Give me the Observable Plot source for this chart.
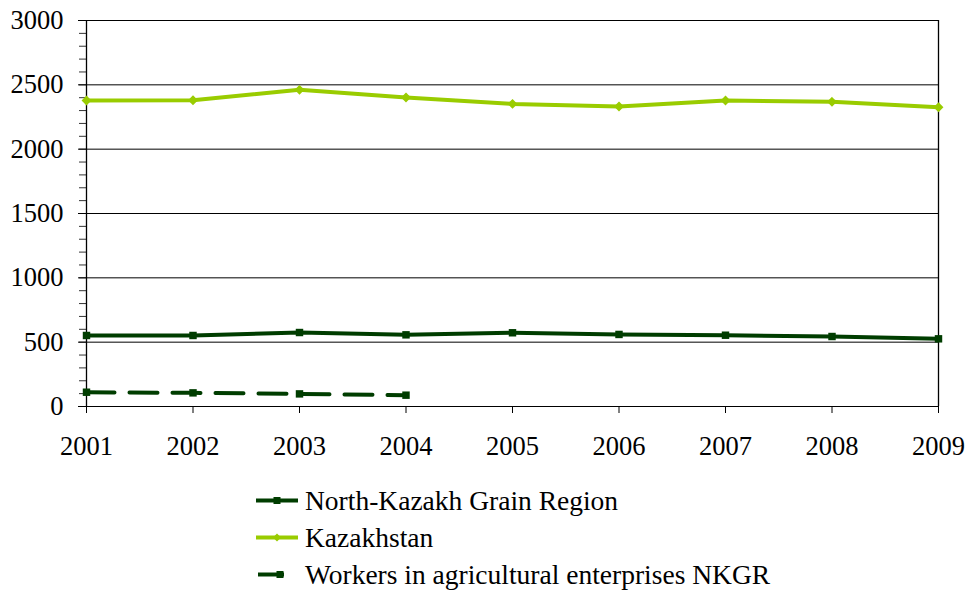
<!DOCTYPE html>
<html>
<head>
<meta charset="utf-8">
<script src="https://cdn.jsdelivr.net/npm/d3@7"></script>
<script src="https://cdn.jsdelivr.net/npm/@observablehq/plot@0.6"></script>
<style>
  html, body { margin: 0; padding: 0; background: white; }
  .row { position: relative; height: 37px; line-height: 37px; }
  .row svg { position: absolute; left: 254px; top: 0; }
  .row span { position: absolute; left: 305px; top: 0; white-space: nowrap; }
</style>
</head>
<body>
<div id="chart"></div>
<div id="legend"></div>
<script>
const FONT = '"Liberation Serif", "Times New Roman", Tinos, serif';
const years = [2001, 2002, 2003, 2004, 2005, 2006, 2007, 2008, 2009];
const nkgr = [552, 552, 575, 557, 573, 560, 554, 544, 526];
const kazakhstan = [2378, 2380, 2461, 2402, 2352, 2332, 2378, 2368, 2326];
const workerYears = [2001, 2002, 2003, 2004];
const workers = [111, 106, 98, 88];
const majorTicks = [0, 500, 1000, 1500, 2000, 2500, 3000];
const minorTicks = d3.range(0, 3001, 100);

const seriesNames = ["North-Kazakh Grain Region", "Kazakhstan", "Workers in agricultural enterprises NKGR"];
const colors = {nkgr: "#003d00", kaz: "#99cc00"};

const nkgrData = years.map((y, i) => ({year: y, value: nkgr[i]}));
const kazData = years.map((y, i) => ({year: y, value: kazakhstan[i]}));
const workData = workerYears.map((y, i) => ({year: y, value: workers[i]}));

const chart = Plot.plot({
  width: 967,
  height: 470,
  marginLeft: 86,
  marginRight: 29,
  marginTop: 20,
  marginBottom: 64,
  style: {fontSize: "26.5px", background: "white", color: "black"},
  x: {domain: [2001, 2009]},
  y: {domain: [0, 3000]},
  marks: [
    Plot.ruleY(majorTicks, {stroke: "#000", strokeWidth: 1}),
    Plot.ruleX([2001, 2009], {stroke: "#000", strokeWidth: 1.3}),
    Plot.axisY({ticks: minorTicks, tickSize: 7, tickFormat: null, text: null, stroke: "#000", strokeOpacity: 0.8, label: null}),
    Plot.axisY({ticks: majorTicks, tickSize: 8, tickPadding: 15, tickFormat: d => String(d), stroke: "#000", label: null}),
    Plot.axisX({ticks: years, tickSize: 7, tickPadding: 23, tickFormat: d => String(d), stroke: "#000", label: null}),
    Plot.line(kazData, {x: "year", y: "value", stroke: colors.kaz, strokeWidth: 4}),
    Plot.dot(kazData, {x: "year", y: "value", symbol: "diamond2", r: 3.5, fill: colors.kaz, stroke: colors.kaz}),
    Plot.line(nkgrData, {x: "year", y: "value", stroke: colors.nkgr, strokeWidth: 4}),
    Plot.dot(nkgrData, {x: "year", y: "value", symbol: "square", r: 4.2, fill: colors.nkgr, stroke: "none"}),
    Plot.line(workData, {x: "year", y: "value", stroke: colors.nkgr, strokeWidth: 4, strokeDasharray: "28,15"}),
    Plot.dot(workData, {x: "year", y: "value", symbol: "square", r: 4.2, fill: colors.nkgr, stroke: "none"})
  ]
});
chart.style.fontFamily = FONT;
chart.querySelectorAll("text").forEach(t => { t.style.fontFamily = FONT; t.style.fontSize = "26.5px"; });
document.getElementById("chart").appendChild(chart);

// legend
const legendEl = document.getElementById("legend");
legendEl.style.fontFamily = FONT;
legendEl.style.fontSize = "27.5px";
legendEl.style.color = "#000";
legendEl.style.paddingTop = "12px";
const legend = d3.select(legendEl);
const items = [
  {name: seriesNames[0], color: colors.nkgr, dash: false, marker: "square"},
  {name: seriesNames[1], color: colors.kaz, dash: false, marker: "diamond"},
  {name: seriesNames[2], color: colors.nkgr, dash: true, marker: "square"}
];
items.forEach(it => {
  const row = legend.append("div").attr("class", "row");
  const svg = row.append("svg").attr("width", 48).attr("height", 37);
  if (it.dash) {
    svg.append("line").attr("x1", 4).attr("x2", 30).attr("y1", 18.5).attr("y2", 18.5)
      .attr("stroke", it.color).attr("stroke-width", 4);
  } else {
    svg.append("line").attr("x1", 2).attr("x2", 44).attr("y1", 18.5).attr("y2", 18.5)
      .attr("stroke", it.color).attr("stroke-width", 4);
  }
  if (it.marker === "square") {
    svg.append("rect").attr("x", (it.dash ? 26 : 23) - 3.5).attr("y", 15).attr("width", 7).attr("height", 7).attr("fill", it.color);
  } else {
    svg.append("path").attr("d", "M23,14.5 L27,18.5 L23,22.5 L19,18.5 Z").attr("fill", it.color);
  }
  row.append("span").style("font-family", FONT).text(it.name);
});
</script>
</body>
</html>
